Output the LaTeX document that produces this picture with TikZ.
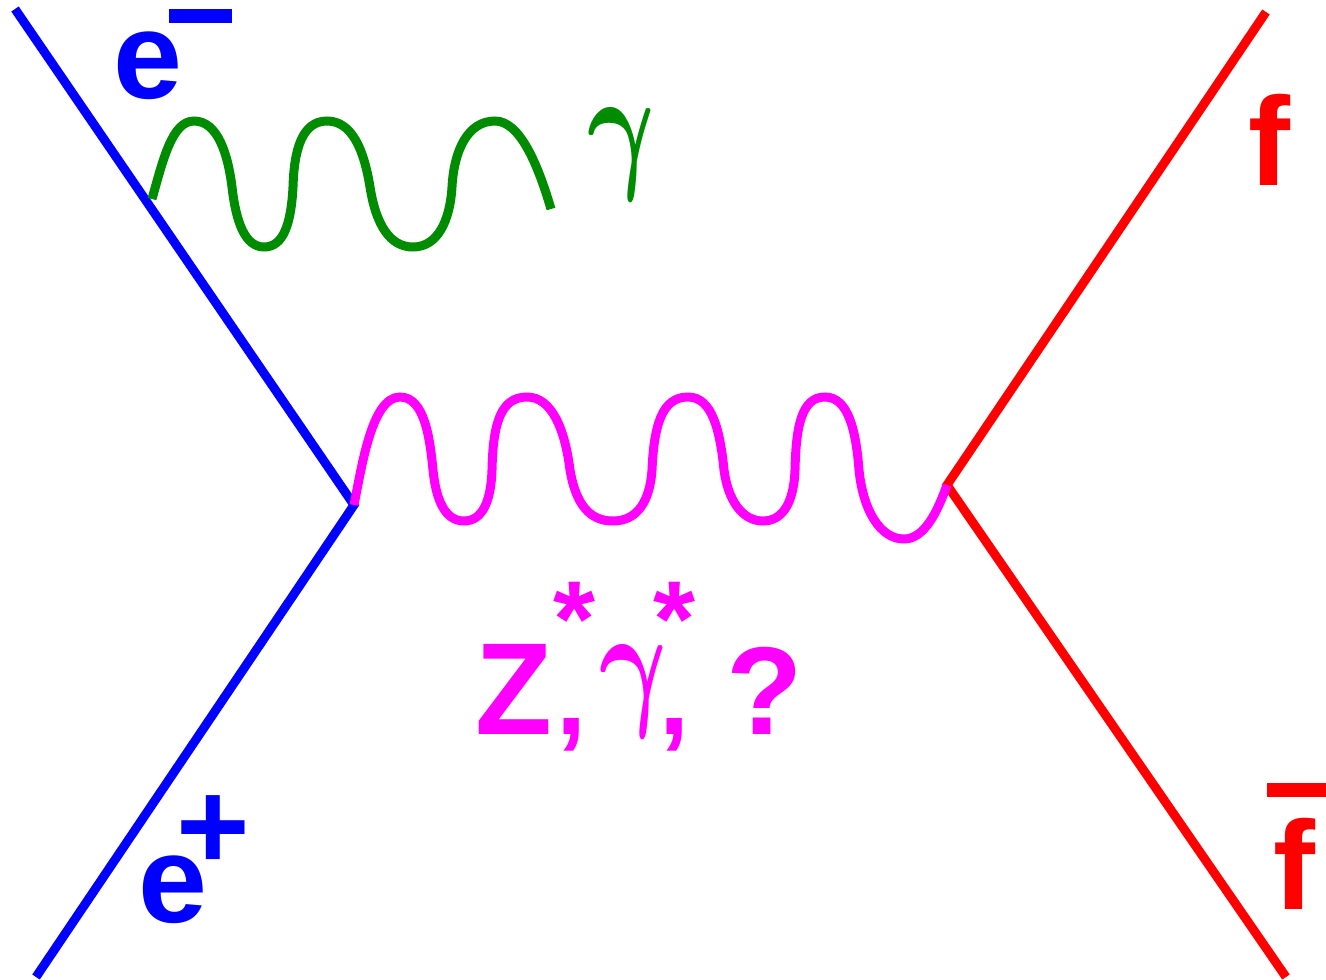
\documentclass[tikz,border=0pt]{standalone}
\usepackage{fontspec}
\setmainfont{Liberation Sans}
\definecolor{gr}{RGB}{0,140,0}
\definecolor{mg}{RGB}{255,0,255}
\tikzset{
  fermi/.style={line width=9pt},
  wave/.style={line width=9pt},
  big/.style={inner sep=0pt,font=\fontsize{#1}{#1}\selectfont\bfseries},
  grkl/.style={inner sep=0pt,transform shape,xslant=-0.07,xscale=10.5,yscale=14.4,font=\boldmath}
}
\begin{document}
\begin{tikzpicture}[x=1pt,y=-1pt]
\useasboundingbox (0,0) rectangle (1326,980);
\coordinate (a) at (15,9);
\coordinate (b) at (36,977);
\coordinate (v1) at (354,505);
\coordinate (v2) at (947,485);
\coordinate (c) at (1266,12);
\coordinate (d) at (1286,977);
\coordinate (g0) at (152,199);
\draw[fermi,blue] (a) -- (v1) -- (b);
\draw[fermi,red] (c) -- (v2) -- (d);
\draw[wave,gr] (g0) .. controls (163,160) and (172,121) .. (194,121)
 .. controls (218,121) and (228,155) .. (232,187)
 .. controls (236,222) and (245,247) .. (264,247)
 .. controls (283,247) and (291,225) .. (293,187)
 .. controls (294,150) and (302,121) .. (327,121)
 .. controls (352,121) and (364,150) .. (370,187)
 .. controls (376,225) and (390,247) .. (413,247)
 .. controls (438,247) and (450,220) .. (452,187)
 .. controls (454,150) and (468,121) .. (495,121)
 .. controls (520,121) and (538,165) .. (551,209);
\draw[wave,mg] (v1) .. controls (362,465) and (372,397) .. (400,397)
 .. controls (425,397) and (430,440) .. (433,470)
 .. controls (436,500) and (445,521) .. (464,521)
 .. controls (483,521) and (491,500) .. (492,470)
 .. controls (493,425) and (500,397) .. (527,397)
 .. controls (552,397) and (565,430) .. (570,470)
 .. controls (576,505) and (590,521) .. (613,521)
 .. controls (638,521) and (650,500) .. (652,470)
 .. controls (654,425) and (662,397) .. (688,397)
 .. controls (712,397) and (720,430) .. (724,470)
 .. controls (728,500) and (742,521) .. (763,521)
 .. controls (784,521) and (794,500) .. (795,470)
 .. controls (796,425) and (802,397) .. (825,397)
 .. controls (848,397) and (856,430) .. (859,470)
 .. controls (863,510) and (880,539) .. (904,539)
 .. controls (925,539) and (938,510) .. (v2);
\node[big=124,blue,anchor=base] (em) at (148,98) {e};
\fill[blue] (169,9) rectangle (232,23);
\node[big=124,blue,anchor=base] (ep) at (173,922) {e};
\node[big=126,blue,anchor=base] (pl) at (213,869) {+};
\node[big=126,red,anchor=base] (f1) at (1269,185) {f};
\node[big=126,red,anchor=base] (f2) at (1294,909) {f};
\fill[red] (1267,783) rectangle (1326,797);
\node[grkl,gr,anchor=base] (gm) at (625,172) {$\gamma$};
\node[big=131,mg,anchor=base,transform shape,xscale=0.96] (z) at (514,734) {Z};
\node[big=108,mg,anchor=base] (c1) at (571,734) {,};
\node[big=108,mg,anchor=base] (s1) at (575,656) {*};
\node[grkl,mg,anchor=base] (gz) at (637,709) {$\gamma$};
\node[big=108,mg,anchor=base] (s2) at (675,656) {*};
\node[big=108,mg,anchor=base] (c2) at (674,734) {,};
\node[big=125,mg,anchor=base] (q) at (765,734) {?};
\end{tikzpicture}
\end{document}
